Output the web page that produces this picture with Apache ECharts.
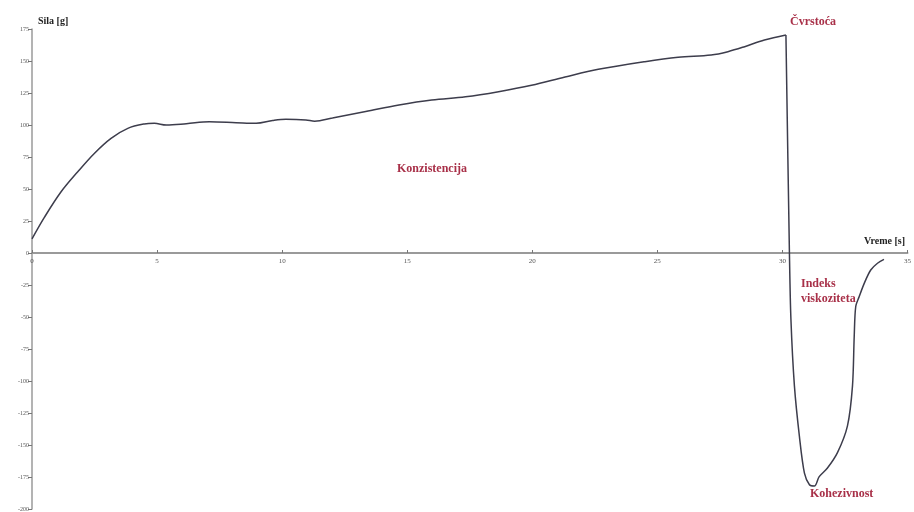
<!DOCTYPE html>
<html>
<head>
<meta charset="utf-8">
<script src="https://cdn.jsdelivr.net/npm/echarts@6/dist/echarts.min.js"></script>
<style>html,body{margin:0;padding:0;background:#fff;}#c{width:914px;height:512px;}</style>
</head>
<body>
<div id="c"></div>
<script>
const times = [0, 0.5, 1.17, 1.83, 2.5, 3.16, 3.83, 4.49, 4.89, 5.37, 6.17, 7.09, 8.16, 8.96, 9.62, 10.15, 10.95, 11.3, 12.01, 13.34, 14.67, 15.98, 17.33, 18.65, 19.97, 21.31, 22.64, 24.5, 25.83, 27.15, 27.82, 28.49, 29.28, 30.14, 30.28, 30.34, 30.48, 30.68, 30.88, 31.08, 31.28, 31.47, 31.8, 32.2, 32.6, 32.8, 32.87, 32.93, 33.07, 33.27, 33.53, 33.8, 34.06];
const forces = [11, 28, 48, 63.5, 78, 89.6, 97.4, 100.8, 101.3, 100, 101, 102.5, 101.8, 101.3, 103.5, 104.5, 104, 103, 105.5, 110.5, 115.6, 119.5, 122, 126, 131, 137.5, 143.5, 149.5, 152.9, 154.7, 157.3, 161.2, 166.4, 170.3, 0, -52, -104, -143.5, -172, -181, -182, -174.7, -168, -156, -135, -104, -65, -42, -34, -23.7, -13.3, -8, -5];
const xTicks = {min: 0, max: 35, interval: 5};
const yTicks = {min: -200, max: 175, interval: 25};
const xTitle = 'Vreme [s]';
const yTitle = 'Sila [g]';
const annotations = ['Čvrstoća', 'Konzistencija', 'Indeks\nviskoziteta', 'Kohezivnost'];

const data = times.map((t, i) => [t, forces[i]]);
const peak = forces.indexOf(Math.max(...forces));
const upData = data.slice(0, peak + 1);
const downData = data.slice(peak);
const serif = '"Liberation Serif", "DejaVu Serif", serif';
const red = '#a83048';
const lineColor = '#3d3d4c';

const gridTop = 29, gridBottom = 3, H = 512;
const plotH = H - gridTop - gridBottom;
const zeroFromBottom = plotH * (0 - yTicks.min) / (yTicks.max - yTicks.min);

const chart = echarts.init(document.getElementById('c'), null, {renderer: 'canvas'});
chart.setOption({
  animation: false,
  backgroundColor: '#fff',
  grid: {left: 32, right: 4, top: gridTop, bottom: gridBottom, containLabel: false},
  xAxis: {
    type: 'value', min: xTicks.min, max: xTicks.max, interval: xTicks.interval,
    offset: -zeroFromBottom,
    axisLine: {onZero: false, lineStyle: {color: '#9a9a9a', width: 2}},
    axisTick: {inside: true, length: 3, lineStyle: {color: '#777'}},
    axisLabel: {fontSize: 7, color: '#555', fontFamily: serif, margin: 5},
    splitLine: {show: false}
  },
  yAxis: {
    type: 'value', min: yTicks.min, max: yTicks.max, interval: yTicks.interval,
    axisLine: {show: true, onZero: false, lineStyle: {color: '#9a9a9a', width: 1.5}},
    axisTick: {show: true, length: 4, lineStyle: {color: '#777'}},
    axisLabel: {fontSize: 6, color: '#555', fontFamily: serif, margin: 3},
    splitLine: {show: false}
  },
  series: [
    {type: 'line', data: upData, showSymbol: false, smooth: 0.35, lineStyle: {color: lineColor, width: 1.5}},
    {type: 'line', data: downData, showSymbol: false, smooth: 0.3, lineStyle: {color: lineColor, width: 1.5}}
  ],
  graphic: [
    {type: 'text', left: 38, top: 16, style: {text: yTitle, font: 'bold 10px ' + serif, fill: '#222'}},
    {type: 'text', left: 864, top: 236, style: {text: xTitle, font: 'bold 10px ' + serif, fill: '#222'}},
    {type: 'text', left: 790, top: 16, style: {text: annotations[0], font: 'bold 12px ' + serif, fill: red}},
    {type: 'text', left: 397, top: 163, style: {text: annotations[1], font: 'bold 12px ' + serif, fill: red}},
    {type: 'text', left: 801, top: 276, style: {text: annotations[2], font: 'bold 12px ' + serif, fill: red, lineHeight: 15}},
    {type: 'text', left: 810, top: 488, style: {text: annotations[3], font: 'bold 12px ' + serif, fill: red}}
  ]
});
</script>
</body>
</html>
